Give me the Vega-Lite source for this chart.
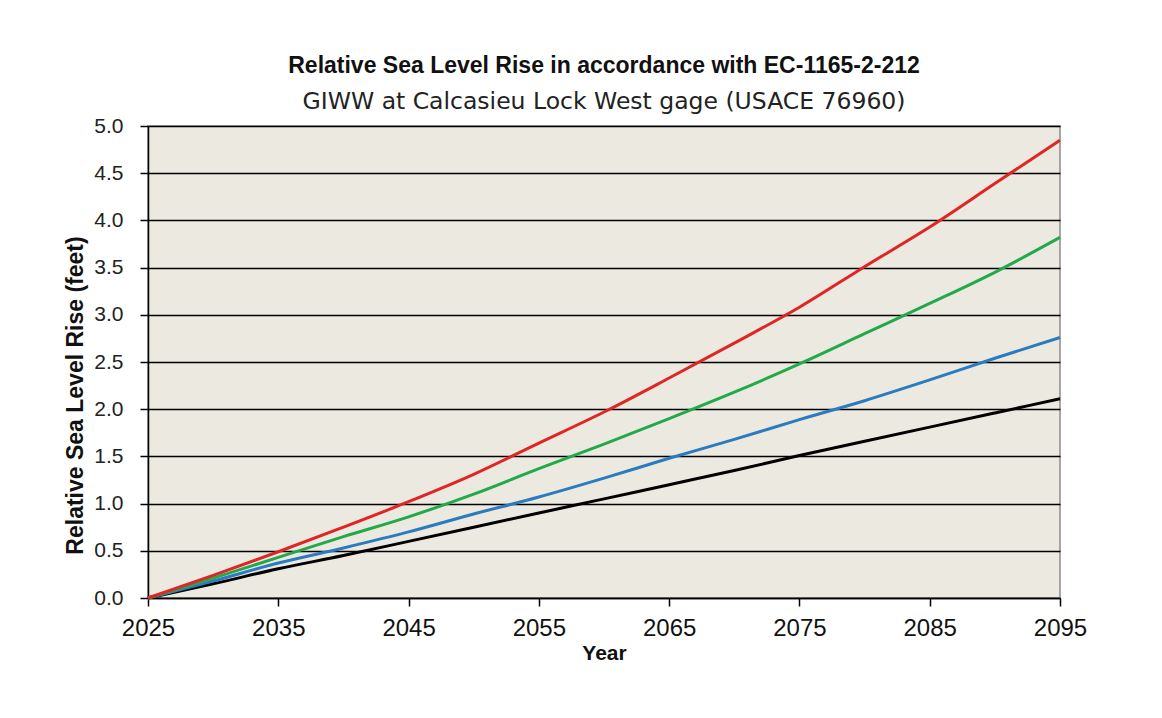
{
  "$schema": "https://vega.github.io/schema/vega-lite/v6.json",
  "autosize": {"type": "none"},
  "width": 912,
  "height": 472,
  "padding": {"left": 148, "top": 126, "right": 102, "bottom": 120},
  "background": "#FFFFFF",
  "title": {
    "text": "Relative Sea Level Rise in accordance with EC-1165-2-212",
    "subtitle": "GIWW at Calcasieu Lock West gage (USACE 76960)",
    "anchor": "middle",
    "font": "Liberation Sans",
    "fontSize": 23,
    "fontWeight": "bold",
    "color": "#111111",
    "subtitleFont": "DejaVu Sans",
    "subtitleFontSize": 23.5,
    "subtitleColor": "#222222",
    "subtitlePadding": 12,
    "offset": 2
  },
  "data": {
    "values": [
      {"year": 2025, "series": "Low", "rise": 0},
      {"year": 2030, "series": "Low", "rise": 0.15},
      {"year": 2035, "series": "Low", "rise": 0.31},
      {"year": 2040, "series": "Low", "rise": 0.45},
      {"year": 2045, "series": "Low", "rise": 0.60},
      {"year": 2050, "series": "Low", "rise": 0.75},
      {"year": 2055, "series": "Low", "rise": 0.90},
      {"year": 2060, "series": "Low", "rise": 1.05},
      {"year": 2065, "series": "Low", "rise": 1.20},
      {"year": 2070, "series": "Low", "rise": 1.35},
      {"year": 2075, "series": "Low", "rise": 1.51},
      {"year": 2080, "series": "Low", "rise": 1.66},
      {"year": 2085, "series": "Low", "rise": 1.81},
      {"year": 2090, "series": "Low", "rise": 1.96},
      {"year": 2095, "series": "Low", "rise": 2.11},
      {"year": 2025, "series": "Intermediate", "rise": 0},
      {"year": 2030, "series": "Intermediate", "rise": 0.18},
      {"year": 2035, "series": "Intermediate", "rise": 0.37},
      {"year": 2040, "series": "Intermediate", "rise": 0.53},
      {"year": 2045, "series": "Intermediate", "rise": 0.70},
      {"year": 2050, "series": "Intermediate", "rise": 0.89},
      {"year": 2055, "series": "Intermediate", "rise": 1.07},
      {"year": 2060, "series": "Intermediate", "rise": 1.27},
      {"year": 2065, "series": "Intermediate", "rise": 1.48},
      {"year": 2070, "series": "Intermediate", "rise": 1.68},
      {"year": 2075, "series": "Intermediate", "rise": 1.89},
      {"year": 2080, "series": "Intermediate", "rise": 2.09},
      {"year": 2085, "series": "Intermediate", "rise": 2.31},
      {"year": 2090, "series": "Intermediate", "rise": 2.54},
      {"year": 2095, "series": "Intermediate", "rise": 2.76},
      {"year": 2025, "series": "NRC II", "rise": 0},
      {"year": 2030, "series": "NRC II", "rise": 0.21},
      {"year": 2035, "series": "NRC II", "rise": 0.43},
      {"year": 2040, "series": "NRC II", "rise": 0.65},
      {"year": 2045, "series": "NRC II", "rise": 0.86},
      {"year": 2050, "series": "NRC II", "rise": 1.10},
      {"year": 2055, "series": "NRC II", "rise": 1.37},
      {"year": 2060, "series": "NRC II", "rise": 1.63},
      {"year": 2065, "series": "NRC II", "rise": 1.90},
      {"year": 2070, "series": "NRC II", "rise": 2.18},
      {"year": 2075, "series": "NRC II", "rise": 2.48},
      {"year": 2080, "series": "NRC II", "rise": 2.80},
      {"year": 2085, "series": "NRC II", "rise": 3.12},
      {"year": 2090, "series": "NRC II", "rise": 3.45},
      {"year": 2095, "series": "NRC II", "rise": 3.82},
      {"year": 2025, "series": "High", "rise": 0},
      {"year": 2030, "series": "High", "rise": 0.24},
      {"year": 2035, "series": "High", "rise": 0.49},
      {"year": 2040, "series": "High", "rise": 0.75},
      {"year": 2045, "series": "High", "rise": 1.02},
      {"year": 2050, "series": "High", "rise": 1.31},
      {"year": 2055, "series": "High", "rise": 1.64},
      {"year": 2060, "series": "High", "rise": 1.97},
      {"year": 2065, "series": "High", "rise": 2.33},
      {"year": 2070, "series": "High", "rise": 2.70},
      {"year": 2075, "series": "High", "rise": 3.08},
      {"year": 2080, "series": "High", "rise": 3.51},
      {"year": 2085, "series": "High", "rise": 3.93},
      {"year": 2090, "series": "High", "rise": 4.39},
      {"year": 2095, "series": "High", "rise": 4.85}
    ]
  },
  "mark": {"type": "line", "strokeWidth": 3, "interpolate": "monotone"},
  "encoding": {
    "x": {
      "field": "year",
      "type": "quantitative",
      "scale": {"domain": [2025, 2095], "nice": false, "zero": false},
      "axis": {
        "title": "Year",
        "values": [2025, 2035, 2045, 2055, 2065, 2075, 2085, 2095],
        "format": "d",
        "grid": false,
        "domainColor": "#000000",
        "domainWidth": 1.5,
        "tickColor": "#000000",
        "tickWidth": 1.5,
        "tickSize": 8,
        "labelFont": "Liberation Sans",
        "labelFontSize": 24,
        "labelColor": "#111111",
        "labelPadding": 10,
        "labelFlush": false,
        "titleFont": "Liberation Sans",
        "titleFontSize": 21,
        "titleFontWeight": "bold",
        "titleColor": "#111111",
        "titlePadding": 2
      }
    },
    "y": {
      "field": "rise",
      "type": "quantitative",
      "scale": {"domain": [0, 5], "nice": false},
      "axis": {
        "title": "Relative Sea Level Rise (feet)",
        "values": [0, 0.5, 1, 1.5, 2, 2.5, 3, 3.5, 4, 4.5, 5],
        "format": ".1f",
        "grid": true,
        "gridColor": "#000000",
        "gridWidth": 1.5,
        "gridOpacity": 1,
        "domainColor": "#000000",
        "domainWidth": 1.5,
        "tickColor": "#000000",
        "tickWidth": 1.5,
        "tickSize": 8,
        "labelFont": "Liberation Sans",
        "labelFontSize": 21,
        "labelColor": "#222222",
        "labelPadding": 17,
        "titleFont": "Liberation Sans",
        "titleFontSize": 23,
        "titleFontWeight": "bold",
        "titleColor": "#111111",
        "titleX": -73,
        "titleY": 269,
        "titleBaseline": "middle",
        "titleAngle": -90
      }
    },
    "color": {
      "field": "series",
      "type": "nominal",
      "scale": {
        "domain": ["Low", "Intermediate", "NRC II", "High"],
        "range": ["#000000", "#2B7BC0", "#22AA4A", "#E02525"]
      },
      "legend": null
    },
    "order": {"field": "series", "sort": "ascending"}
  },
  "config": {
    "view": {"fill": "#ECE9E0", "stroke": "#8C8C8C", "strokeWidth": 1.5}
  }
}
